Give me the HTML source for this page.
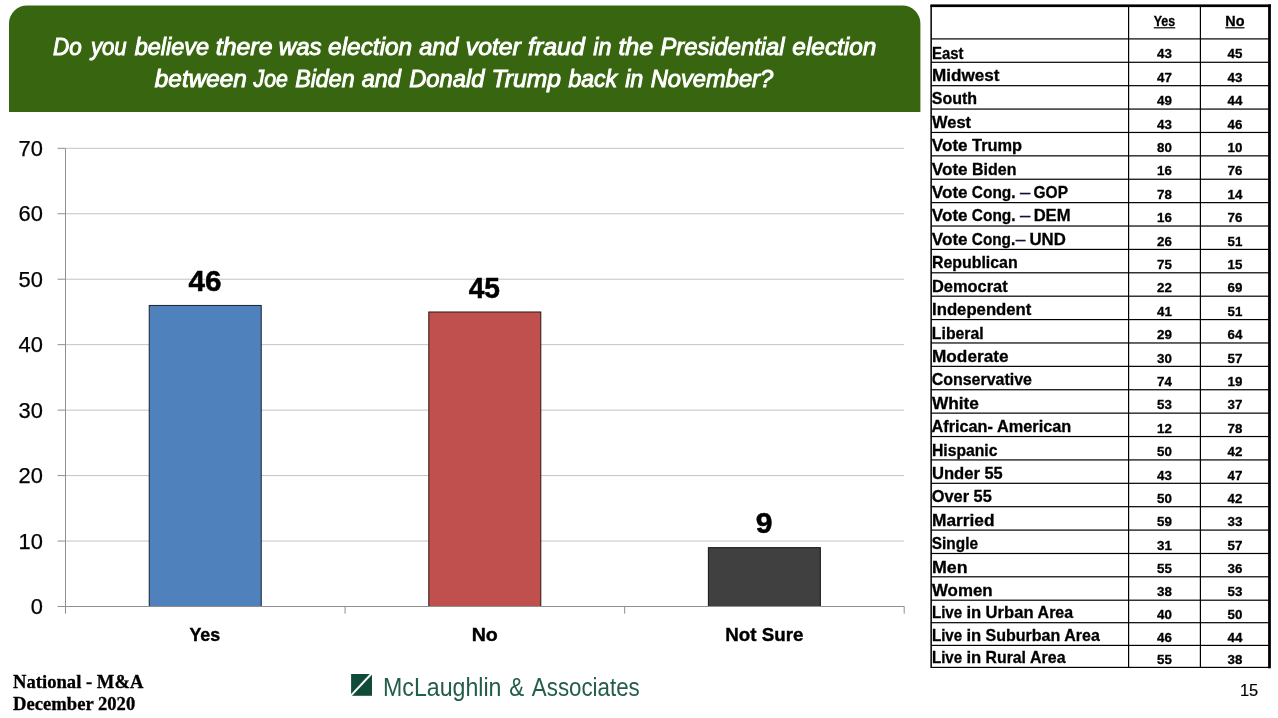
<!DOCTYPE html>
<html lang="en"><head><meta charset="utf-8"><title>Election fraud poll</title>
<style>html,body{margin:0;padding:0;background:#fff}svg{display:block}text{font-family:"Liberation Sans",sans-serif}text.sf{font-family:"Liberation Serif",serif}</style>
</head><body>
<svg width="1278" height="718" viewBox="0 0 1278 718">
<path d="M9 112V23.5A18 18 0 0 1 27 5.5H902.4A18 18 0 0 1 920.4 23.5V112Z" fill="#38650f"/>
<text y="55.10" font-size="24" font-style="italic" fill="#fff" stroke="#fff" stroke-width="0.95"><tspan x="52.99" textLength="28.73" lengthAdjust="spacingAndGlyphs">Do</tspan> <tspan x="90.92" textLength="35.73" lengthAdjust="spacingAndGlyphs">you</tspan> <tspan x="134.69" textLength="74.48" lengthAdjust="spacingAndGlyphs">believe</tspan> <tspan x="215.85" textLength="56.60" lengthAdjust="spacingAndGlyphs">there</tspan> <tspan x="278.83" textLength="42.80" lengthAdjust="spacingAndGlyphs">was</tspan> <tspan x="328.13" textLength="84.06" lengthAdjust="spacingAndGlyphs">election</tspan> <tspan x="419.19" textLength="39.23" lengthAdjust="spacingAndGlyphs">and</tspan> <tspan x="465.78" textLength="54.99" lengthAdjust="spacingAndGlyphs">voter</tspan> <tspan x="528.05" textLength="56.68" lengthAdjust="spacingAndGlyphs">fraud</tspan> <tspan x="593.34" textLength="18.11" lengthAdjust="spacingAndGlyphs">in</tspan> <tspan x="618.42" textLength="34.75" lengthAdjust="spacingAndGlyphs">the</tspan> <tspan x="660.41" textLength="124.20" lengthAdjust="spacingAndGlyphs">Presidential</tspan> <tspan x="792.37" textLength="84.06" lengthAdjust="spacingAndGlyphs">election</tspan></text>
<text y="86.50" font-size="24" font-style="italic" fill="#fff" stroke="#fff" stroke-width="0.95"><tspan x="154.84" textLength="91.98" lengthAdjust="spacingAndGlyphs">between</tspan> <tspan x="253.62" textLength="34.34" lengthAdjust="spacingAndGlyphs">Joe</tspan> <tspan x="295.16" textLength="59.46" lengthAdjust="spacingAndGlyphs">Biden</tspan> <tspan x="361.68" textLength="39.30" lengthAdjust="spacingAndGlyphs">and</tspan> <tspan x="409.16" textLength="75.25" lengthAdjust="spacingAndGlyphs">Donald</tspan> <tspan x="491.45" textLength="69.54" lengthAdjust="spacingAndGlyphs">Trump</tspan> <tspan x="568.41" textLength="48.51" lengthAdjust="spacingAndGlyphs">back</tspan> <tspan x="625.19" textLength="18.14" lengthAdjust="spacingAndGlyphs">in</tspan> <tspan x="650.74" textLength="122.45" lengthAdjust="spacingAndGlyphs">November?</tspan></text>
<line x1="65.5" y1="148.30" x2="904.2" y2="148.30" stroke="#c3c3c3" stroke-width="1"/>
<line x1="65.5" y1="213.76" x2="904.2" y2="213.76" stroke="#c3c3c3" stroke-width="1"/>
<line x1="65.5" y1="279.21" x2="904.2" y2="279.21" stroke="#c3c3c3" stroke-width="1"/>
<line x1="65.5" y1="344.67" x2="904.2" y2="344.67" stroke="#c3c3c3" stroke-width="1"/>
<line x1="65.5" y1="410.13" x2="904.2" y2="410.13" stroke="#c3c3c3" stroke-width="1"/>
<line x1="65.5" y1="475.59" x2="904.2" y2="475.59" stroke="#c3c3c3" stroke-width="1"/>
<line x1="65.5" y1="541.04" x2="904.2" y2="541.04" stroke="#c3c3c3" stroke-width="1"/>
<line x1="57.6" y1="148.30" x2="65.5" y2="148.30" stroke="#8f8f8f" stroke-width="1"/>
<line x1="57.6" y1="213.76" x2="65.5" y2="213.76" stroke="#8f8f8f" stroke-width="1"/>
<line x1="57.6" y1="279.21" x2="65.5" y2="279.21" stroke="#8f8f8f" stroke-width="1"/>
<line x1="57.6" y1="344.67" x2="65.5" y2="344.67" stroke="#8f8f8f" stroke-width="1"/>
<line x1="57.6" y1="410.13" x2="65.5" y2="410.13" stroke="#8f8f8f" stroke-width="1"/>
<line x1="57.6" y1="475.59" x2="65.5" y2="475.59" stroke="#8f8f8f" stroke-width="1"/>
<line x1="57.6" y1="541.04" x2="65.5" y2="541.04" stroke="#8f8f8f" stroke-width="1"/>
<line x1="57.6" y1="606.50" x2="65.5" y2="606.50" stroke="#8f8f8f" stroke-width="1"/>
<line x1="65.5" y1="148.3" x2="65.5" y2="606.5" stroke="#8f8f8f" stroke-width="1"/>
<line x1="65.50" y1="606.5" x2="65.50" y2="613.7" stroke="#8f8f8f" stroke-width="1"/>
<line x1="345.07" y1="606.5" x2="345.07" y2="613.7" stroke="#8f8f8f" stroke-width="1"/>
<line x1="624.63" y1="606.5" x2="624.63" y2="613.7" stroke="#8f8f8f" stroke-width="1"/>
<line x1="904.20" y1="606.5" x2="904.20" y2="613.7" stroke="#8f8f8f" stroke-width="1"/>
<text x="42.90" y="156.00" font-size="21.2" text-anchor="end" stroke="#000" stroke-width="0.25" textLength="24.34" lengthAdjust="spacingAndGlyphs">70</text>
<text x="42.90" y="221.46" font-size="21.2" text-anchor="end" stroke="#000" stroke-width="0.25" textLength="24.34" lengthAdjust="spacingAndGlyphs">60</text>
<text x="42.90" y="286.91" font-size="21.2" text-anchor="end" stroke="#000" stroke-width="0.25" textLength="24.34" lengthAdjust="spacingAndGlyphs">50</text>
<text x="42.90" y="352.37" font-size="21.2" text-anchor="end" stroke="#000" stroke-width="0.25" textLength="24.34" lengthAdjust="spacingAndGlyphs">40</text>
<text x="42.90" y="417.83" font-size="21.2" text-anchor="end" stroke="#000" stroke-width="0.25" textLength="24.34" lengthAdjust="spacingAndGlyphs">30</text>
<text x="42.90" y="483.29" font-size="21.2" text-anchor="end" stroke="#000" stroke-width="0.25" textLength="24.34" lengthAdjust="spacingAndGlyphs">20</text>
<text x="42.90" y="548.74" font-size="21.2" text-anchor="end" stroke="#000" stroke-width="0.25" textLength="24.34" lengthAdjust="spacingAndGlyphs">10</text>
<text x="42.90" y="614.20" font-size="21.2" text-anchor="end" stroke="#000" stroke-width="0.25" textLength="12.17" lengthAdjust="spacingAndGlyphs">0</text>
<rect x="149.23" y="305.45" width="112.00" height="301.05" fill="#4f81bd" stroke="#1a2233" stroke-width="1"/>
<text x="188.45" y="291.20" font-size="28.6" text-anchor="start" font-weight="bold" stroke="#000" stroke-width="0.5" textLength="32.92" lengthAdjust="spacingAndGlyphs">46</text>
<text x="189.39" y="640.80" font-size="19.2" text-anchor="start" font-weight="bold" stroke="#000" stroke-width="0.4" textLength="30.84" lengthAdjust="spacingAndGlyphs">Yes</text>
<rect x="428.80" y="311.99" width="112.00" height="294.51" fill="#c0504d" stroke="#2e1413" stroke-width="1"/>
<text x="468.67" y="297.74" font-size="28.6" text-anchor="start" font-weight="bold" stroke="#000" stroke-width="0.5" textLength="31.31" lengthAdjust="spacingAndGlyphs">45</text>
<text x="471.69" y="640.80" font-size="19.2" text-anchor="start" font-weight="bold" stroke="#000" stroke-width="0.4" textLength="26.18" lengthAdjust="spacingAndGlyphs">No</text>
<rect x="708.37" y="547.64" width="112.00" height="58.86" fill="#404040" stroke="#141414" stroke-width="1"/>
<text x="755.76" y="533.39" font-size="28.6" text-anchor="start" font-weight="bold" stroke="#000" stroke-width="0.5" textLength="16.76" lengthAdjust="spacingAndGlyphs">9</text>
<text x="725.35" y="640.80" font-size="19.2" text-anchor="start" font-weight="bold" stroke="#000" stroke-width="0.4" textLength="78.09" lengthAdjust="spacingAndGlyphs">Not Sure</text>
<line x1="65.5" y1="606.5" x2="904.2" y2="606.5" stroke="#8f8f8f" stroke-width="1.1"/>
<rect x="930.40" y="4.4" width="340.50" height="2.7" fill="#000"/>
<rect x="1268.1" y="4.4" width="2.8" height="663.90" fill="#000"/>
<rect x="930.40" y="5.20" width="1.5" height="662.80" fill="#000"/>
<rect x="1128.00" y="5.20" width="1.2" height="662.20" fill="#000"/>
<rect x="1199.80" y="5.20" width="1.2" height="662.20" fill="#000"/>
<rect x="931.20" y="38.30" width="338.20" height="1.2" fill="#000"/>
<rect x="931.20" y="61.69" width="338.20" height="1.2" fill="#000"/>
<rect x="931.20" y="85.08" width="338.20" height="1.2" fill="#000"/>
<rect x="931.20" y="108.47" width="338.20" height="1.2" fill="#000"/>
<rect x="931.20" y="131.86" width="338.20" height="1.2" fill="#000"/>
<rect x="931.20" y="155.25" width="338.20" height="1.2" fill="#000"/>
<rect x="931.20" y="178.64" width="338.20" height="1.2" fill="#000"/>
<rect x="931.20" y="202.03" width="338.20" height="1.2" fill="#000"/>
<rect x="931.20" y="225.42" width="338.20" height="1.2" fill="#000"/>
<rect x="931.20" y="248.81" width="338.20" height="1.2" fill="#000"/>
<rect x="931.20" y="272.20" width="338.20" height="1.2" fill="#000"/>
<rect x="931.20" y="295.59" width="338.20" height="1.2" fill="#000"/>
<rect x="931.20" y="318.98" width="338.20" height="1.2" fill="#000"/>
<rect x="931.20" y="342.37" width="338.20" height="1.2" fill="#000"/>
<rect x="931.20" y="365.76" width="338.20" height="1.2" fill="#000"/>
<rect x="931.20" y="389.15" width="338.20" height="1.2" fill="#000"/>
<rect x="931.20" y="412.54" width="338.20" height="1.2" fill="#000"/>
<rect x="931.20" y="435.93" width="338.20" height="1.2" fill="#000"/>
<rect x="931.20" y="459.32" width="338.20" height="1.2" fill="#000"/>
<rect x="931.20" y="482.71" width="338.20" height="1.2" fill="#000"/>
<rect x="931.20" y="506.10" width="338.20" height="1.2" fill="#000"/>
<rect x="931.20" y="529.49" width="338.20" height="1.2" fill="#000"/>
<rect x="931.20" y="552.88" width="338.20" height="1.2" fill="#000"/>
<rect x="931.20" y="576.20" width="338.20" height="1.2" fill="#000"/>
<rect x="931.20" y="599.60" width="338.20" height="1.2" fill="#000"/>
<rect x="931.20" y="622.10" width="338.20" height="1.2" fill="#000"/>
<rect x="931.20" y="644.80" width="338.20" height="1.2" fill="#000"/>
<rect x="931.20" y="666.80" width="338.20" height="1.2" fill="#000"/>
<text x="1164.50" y="25.70" font-size="14.4" text-anchor="middle" font-weight="bold" stroke="#000" stroke-width="0.3" textLength="21.48" lengthAdjust="spacingAndGlyphs">Yes</text>
<rect x="1153.76" y="27.2" width="21.48" height="1.2" fill="#000"/>
<text x="1234.90" y="25.70" font-size="14.4" text-anchor="middle" font-weight="bold" stroke="#000" stroke-width="0.3" textLength="19.16" lengthAdjust="spacingAndGlyphs">No</text>
<rect x="1225.32" y="27.2" width="19.16" height="1.2" fill="#000"/>
<text y="58.59" font-size="16.6" font-weight="bold" stroke="#000" stroke-width="0.3"><tspan x="932.00" textLength="31.43" lengthAdjust="spacingAndGlyphs">East</tspan></text>
<text x="1164.50" y="58.49" font-size="12.9" text-anchor="middle" font-weight="bold" stroke="#000" stroke-width="0.3" textLength="14.84" lengthAdjust="spacingAndGlyphs">43</text>
<text x="1234.90" y="58.49" font-size="12.9" text-anchor="middle" font-weight="bold" stroke="#000" stroke-width="0.3" textLength="14.84" lengthAdjust="spacingAndGlyphs">45</text>
<text y="81.08" font-size="16.6" font-weight="bold" stroke="#000" stroke-width="0.3"><tspan x="932.04" textLength="67.48" lengthAdjust="spacingAndGlyphs">Midwest</tspan></text>
<text x="1164.50" y="81.88" font-size="12.9" text-anchor="middle" font-weight="bold" stroke="#000" stroke-width="0.3" textLength="14.84" lengthAdjust="spacingAndGlyphs">47</text>
<text x="1234.90" y="81.88" font-size="12.9" text-anchor="middle" font-weight="bold" stroke="#000" stroke-width="0.3" textLength="14.84" lengthAdjust="spacingAndGlyphs">43</text>
<text y="104.47" font-size="16.6" font-weight="bold" stroke="#000" stroke-width="0.3"><tspan x="931.81" textLength="45.34" lengthAdjust="spacingAndGlyphs">South</tspan></text>
<text x="1164.50" y="105.27" font-size="12.9" text-anchor="middle" font-weight="bold" stroke="#000" stroke-width="0.3" textLength="14.84" lengthAdjust="spacingAndGlyphs">49</text>
<text x="1234.90" y="105.27" font-size="12.9" text-anchor="middle" font-weight="bold" stroke="#000" stroke-width="0.3" textLength="14.84" lengthAdjust="spacingAndGlyphs">44</text>
<text y="127.86" font-size="16.6" font-weight="bold" stroke="#000" stroke-width="0.3"><tspan x="931.99" textLength="39.05" lengthAdjust="spacingAndGlyphs">West</tspan></text>
<text x="1164.50" y="128.66" font-size="12.9" text-anchor="middle" font-weight="bold" stroke="#000" stroke-width="0.3" textLength="14.84" lengthAdjust="spacingAndGlyphs">43</text>
<text x="1234.90" y="128.66" font-size="12.9" text-anchor="middle" font-weight="bold" stroke="#000" stroke-width="0.3" textLength="14.84" lengthAdjust="spacingAndGlyphs">46</text>
<text y="151.25" font-size="16.6" font-weight="bold" stroke="#000" stroke-width="0.3"><tspan x="931.81" textLength="35.80" lengthAdjust="spacingAndGlyphs">Vote</tspan> <tspan x="972.04" textLength="50.11" lengthAdjust="spacingAndGlyphs">Trump</tspan></text>
<text x="1164.50" y="152.05" font-size="12.9" text-anchor="middle" font-weight="bold" stroke="#000" stroke-width="0.3" textLength="14.84" lengthAdjust="spacingAndGlyphs">80</text>
<text x="1234.90" y="152.05" font-size="12.9" text-anchor="middle" font-weight="bold" stroke="#000" stroke-width="0.3" textLength="14.84" lengthAdjust="spacingAndGlyphs">10</text>
<text y="174.64" font-size="16.6" font-weight="bold" stroke="#000" stroke-width="0.3"><tspan x="931.81" textLength="35.80" lengthAdjust="spacingAndGlyphs">Vote</tspan> <tspan x="972.08" textLength="44.31" lengthAdjust="spacingAndGlyphs">Biden</tspan></text>
<text x="1164.50" y="175.44" font-size="12.9" text-anchor="middle" font-weight="bold" stroke="#000" stroke-width="0.3" textLength="14.84" lengthAdjust="spacingAndGlyphs">16</text>
<text x="1234.90" y="175.44" font-size="12.9" text-anchor="middle" font-weight="bold" stroke="#000" stroke-width="0.3" textLength="14.84" lengthAdjust="spacingAndGlyphs">76</text>
<text y="198.03" font-size="16.6" font-weight="bold" stroke="#000" stroke-width="0.3"><tspan x="931.81" textLength="35.80" lengthAdjust="spacingAndGlyphs">Vote</tspan> <tspan x="971.81" textLength="43.82" lengthAdjust="spacingAndGlyphs">Cong.</tspan> <tspan x="1020.02" textLength="10.27" lengthAdjust="spacingAndGlyphs" font-weight="normal" fill="#0a0a30" stroke="#0a0a30" stroke-width="0.35">–</tspan> <tspan x="1033.53" textLength="34.46" lengthAdjust="spacingAndGlyphs">GOP</tspan></text>
<text x="1164.50" y="198.83" font-size="12.9" text-anchor="middle" font-weight="bold" stroke="#000" stroke-width="0.3" textLength="14.84" lengthAdjust="spacingAndGlyphs">78</text>
<text x="1234.90" y="198.83" font-size="12.9" text-anchor="middle" font-weight="bold" stroke="#000" stroke-width="0.3" textLength="14.84" lengthAdjust="spacingAndGlyphs">14</text>
<text y="221.42" font-size="16.6" font-weight="bold" stroke="#000" stroke-width="0.3"><tspan x="931.81" textLength="35.80" lengthAdjust="spacingAndGlyphs">Vote</tspan> <tspan x="971.81" textLength="43.82" lengthAdjust="spacingAndGlyphs">Cong.</tspan> <tspan x="1020.02" textLength="10.27" lengthAdjust="spacingAndGlyphs" font-weight="normal" fill="#0a0a30" stroke="#0a0a30" stroke-width="0.35">–</tspan> <tspan x="1033.63" textLength="36.91" lengthAdjust="spacingAndGlyphs">DEM</tspan></text>
<text x="1164.50" y="222.22" font-size="12.9" text-anchor="middle" font-weight="bold" stroke="#000" stroke-width="0.3" textLength="14.84" lengthAdjust="spacingAndGlyphs">16</text>
<text x="1234.90" y="222.22" font-size="12.9" text-anchor="middle" font-weight="bold" stroke="#000" stroke-width="0.3" textLength="14.84" lengthAdjust="spacingAndGlyphs">76</text>
<text y="244.81" font-size="16.6" font-weight="bold" stroke="#000" stroke-width="0.3"><tspan x="931.81" textLength="35.80" lengthAdjust="spacingAndGlyphs">Vote</tspan> <tspan x="971.81" textLength="43.46" lengthAdjust="spacingAndGlyphs">Cong.</tspan><tspan x="1015.82" textLength="9.67" lengthAdjust="spacingAndGlyphs" font-weight="normal" fill="#0a0a30" stroke="#0a0a30" stroke-width="0.35">–</tspan> <tspan x="1029.46" textLength="36.33" lengthAdjust="spacingAndGlyphs">UND</tspan></text>
<text x="1164.50" y="245.61" font-size="12.9" text-anchor="middle" font-weight="bold" stroke="#000" stroke-width="0.3" textLength="14.84" lengthAdjust="spacingAndGlyphs">26</text>
<text x="1234.90" y="245.61" font-size="12.9" text-anchor="middle" font-weight="bold" stroke="#000" stroke-width="0.3" textLength="14.84" lengthAdjust="spacingAndGlyphs">51</text>
<text y="268.20" font-size="16.6" font-weight="bold" stroke="#000" stroke-width="0.3"><tspan x="931.93" textLength="85.70" lengthAdjust="spacingAndGlyphs">Republican</tspan></text>
<text x="1164.50" y="269.00" font-size="12.9" text-anchor="middle" font-weight="bold" stroke="#000" stroke-width="0.3" textLength="14.84" lengthAdjust="spacingAndGlyphs">75</text>
<text x="1234.90" y="269.00" font-size="12.9" text-anchor="middle" font-weight="bold" stroke="#000" stroke-width="0.3" textLength="14.84" lengthAdjust="spacingAndGlyphs">15</text>
<text y="291.59" font-size="16.6" font-weight="bold" stroke="#000" stroke-width="0.3"><tspan x="931.88" textLength="75.80" lengthAdjust="spacingAndGlyphs">Democrat</tspan></text>
<text x="1164.50" y="292.39" font-size="12.9" text-anchor="middle" font-weight="bold" stroke="#000" stroke-width="0.3" textLength="14.84" lengthAdjust="spacingAndGlyphs">22</text>
<text x="1234.90" y="292.39" font-size="12.9" text-anchor="middle" font-weight="bold" stroke="#000" stroke-width="0.3" textLength="14.84" lengthAdjust="spacingAndGlyphs">69</text>
<text y="314.98" font-size="16.6" font-weight="bold" stroke="#000" stroke-width="0.3"><tspan x="932.09" textLength="99.27" lengthAdjust="spacingAndGlyphs">Independent</tspan></text>
<text x="1164.50" y="315.78" font-size="12.9" text-anchor="middle" font-weight="bold" stroke="#000" stroke-width="0.3" textLength="14.84" lengthAdjust="spacingAndGlyphs">41</text>
<text x="1234.90" y="315.78" font-size="12.9" text-anchor="middle" font-weight="bold" stroke="#000" stroke-width="0.3" textLength="14.84" lengthAdjust="spacingAndGlyphs">51</text>
<text y="338.97" font-size="16.6" font-weight="bold" stroke="#000" stroke-width="0.3"><tspan x="931.85" textLength="51.83" lengthAdjust="spacingAndGlyphs">Liberal</tspan></text>
<text x="1164.50" y="339.17" font-size="12.9" text-anchor="middle" font-weight="bold" stroke="#000" stroke-width="0.3" textLength="14.84" lengthAdjust="spacingAndGlyphs">29</text>
<text x="1234.90" y="339.17" font-size="12.9" text-anchor="middle" font-weight="bold" stroke="#000" stroke-width="0.3" textLength="14.84" lengthAdjust="spacingAndGlyphs">64</text>
<text y="361.76" font-size="16.6" font-weight="bold" stroke="#000" stroke-width="0.3"><tspan x="932.04" textLength="76.48" lengthAdjust="spacingAndGlyphs">Moderate</tspan></text>
<text x="1164.50" y="362.56" font-size="12.9" text-anchor="middle" font-weight="bold" stroke="#000" stroke-width="0.3" textLength="14.84" lengthAdjust="spacingAndGlyphs">30</text>
<text x="1234.90" y="362.56" font-size="12.9" text-anchor="middle" font-weight="bold" stroke="#000" stroke-width="0.3" textLength="14.84" lengthAdjust="spacingAndGlyphs">57</text>
<text y="385.15" font-size="16.6" font-weight="bold" stroke="#000" stroke-width="0.3"><tspan x="931.65" textLength="100.35" lengthAdjust="spacingAndGlyphs">Conservative</tspan></text>
<text x="1164.50" y="385.95" font-size="12.9" text-anchor="middle" font-weight="bold" stroke="#000" stroke-width="0.3" textLength="14.84" lengthAdjust="spacingAndGlyphs">74</text>
<text x="1234.90" y="385.95" font-size="12.9" text-anchor="middle" font-weight="bold" stroke="#000" stroke-width="0.3" textLength="14.84" lengthAdjust="spacingAndGlyphs">19</text>
<text y="409.14" font-size="16.6" font-weight="bold" stroke="#000" stroke-width="0.3"><tspan x="931.99" textLength="46.96" lengthAdjust="spacingAndGlyphs">White</tspan></text>
<text x="1164.50" y="409.34" font-size="12.9" text-anchor="middle" font-weight="bold" stroke="#000" stroke-width="0.3" textLength="14.84" lengthAdjust="spacingAndGlyphs">53</text>
<text x="1234.90" y="409.34" font-size="12.9" text-anchor="middle" font-weight="bold" stroke="#000" stroke-width="0.3" textLength="14.84" lengthAdjust="spacingAndGlyphs">37</text>
<text y="431.93" font-size="16.6" font-weight="bold" stroke="#000" stroke-width="0.3"><tspan x="931.55" textLength="61.42" lengthAdjust="spacingAndGlyphs">African-</tspan> <tspan x="996.97" textLength="74.34" lengthAdjust="spacingAndGlyphs">American</tspan></text>
<text x="1164.50" y="432.73" font-size="12.9" text-anchor="middle" font-weight="bold" stroke="#000" stroke-width="0.3" textLength="14.84" lengthAdjust="spacingAndGlyphs">12</text>
<text x="1234.90" y="432.73" font-size="12.9" text-anchor="middle" font-weight="bold" stroke="#000" stroke-width="0.3" textLength="14.84" lengthAdjust="spacingAndGlyphs">78</text>
<text y="455.92" font-size="16.6" font-weight="bold" stroke="#000" stroke-width="0.3"><tspan x="931.90" textLength="65.62" lengthAdjust="spacingAndGlyphs">Hispanic</tspan></text>
<text x="1164.50" y="456.12" font-size="12.9" text-anchor="middle" font-weight="bold" stroke="#000" stroke-width="0.3" textLength="14.84" lengthAdjust="spacingAndGlyphs">50</text>
<text x="1234.90" y="456.12" font-size="12.9" text-anchor="middle" font-weight="bold" stroke="#000" stroke-width="0.3" textLength="14.84" lengthAdjust="spacingAndGlyphs">42</text>
<text y="478.71" font-size="16.6" font-weight="bold" stroke="#000" stroke-width="0.3"><tspan x="931.94" textLength="48.05" lengthAdjust="spacingAndGlyphs">Under</tspan> <tspan x="984.52" textLength="18.19" lengthAdjust="spacingAndGlyphs">55</tspan></text>
<text x="1164.50" y="479.51" font-size="12.9" text-anchor="middle" font-weight="bold" stroke="#000" stroke-width="0.3" textLength="14.84" lengthAdjust="spacingAndGlyphs">43</text>
<text x="1234.90" y="479.51" font-size="12.9" text-anchor="middle" font-weight="bold" stroke="#000" stroke-width="0.3" textLength="14.84" lengthAdjust="spacingAndGlyphs">47</text>
<text y="502.10" font-size="16.6" font-weight="bold" stroke="#000" stroke-width="0.3"><tspan x="931.69" textLength="37.35" lengthAdjust="spacingAndGlyphs">Over</tspan> <tspan x="973.56" textLength="18.19" lengthAdjust="spacingAndGlyphs">55</tspan></text>
<text x="1164.50" y="502.90" font-size="12.9" text-anchor="middle" font-weight="bold" stroke="#000" stroke-width="0.3" textLength="14.84" lengthAdjust="spacingAndGlyphs">50</text>
<text x="1234.90" y="502.90" font-size="12.9" text-anchor="middle" font-weight="bold" stroke="#000" stroke-width="0.3" textLength="14.84" lengthAdjust="spacingAndGlyphs">42</text>
<text y="525.99" font-size="16.6" font-weight="bold" stroke="#000" stroke-width="0.3"><tspan x="932.03" textLength="62.57" lengthAdjust="spacingAndGlyphs">Married</tspan></text>
<text x="1164.50" y="526.29" font-size="12.9" text-anchor="middle" font-weight="bold" stroke="#000" stroke-width="0.3" textLength="14.84" lengthAdjust="spacingAndGlyphs">59</text>
<text x="1234.90" y="526.29" font-size="12.9" text-anchor="middle" font-weight="bold" stroke="#000" stroke-width="0.3" textLength="14.84" lengthAdjust="spacingAndGlyphs">33</text>
<text y="548.88" font-size="16.6" font-weight="bold" stroke="#000" stroke-width="0.3"><tspan x="931.82" textLength="46.16" lengthAdjust="spacingAndGlyphs">Single</tspan></text>
<text x="1164.50" y="549.68" font-size="12.9" text-anchor="middle" font-weight="bold" stroke="#000" stroke-width="0.3" textLength="14.84" lengthAdjust="spacingAndGlyphs">31</text>
<text x="1234.90" y="549.68" font-size="12.9" text-anchor="middle" font-weight="bold" stroke="#000" stroke-width="0.3" textLength="14.84" lengthAdjust="spacingAndGlyphs">57</text>
<text y="572.70" font-size="16.6" font-weight="bold" stroke="#000" stroke-width="0.3"><tspan x="932.00" textLength="35.60" lengthAdjust="spacingAndGlyphs">Men</tspan></text>
<text x="1164.50" y="573.00" font-size="12.9" text-anchor="middle" font-weight="bold" stroke="#000" stroke-width="0.3" textLength="14.84" lengthAdjust="spacingAndGlyphs">55</text>
<text x="1234.90" y="573.00" font-size="12.9" text-anchor="middle" font-weight="bold" stroke="#000" stroke-width="0.3" textLength="14.84" lengthAdjust="spacingAndGlyphs">36</text>
<text y="595.60" font-size="16.6" font-weight="bold" stroke="#000" stroke-width="0.3"><tspan x="931.99" textLength="60.70" lengthAdjust="spacingAndGlyphs">Women</tspan></text>
<text x="1164.50" y="596.40" font-size="12.9" text-anchor="middle" font-weight="bold" stroke="#000" stroke-width="0.3" textLength="14.84" lengthAdjust="spacingAndGlyphs">38</text>
<text x="1234.90" y="596.40" font-size="12.9" text-anchor="middle" font-weight="bold" stroke="#000" stroke-width="0.3" textLength="14.84" lengthAdjust="spacingAndGlyphs">53</text>
<text y="618.10" font-size="16.6" font-weight="bold" stroke="#000" stroke-width="0.3"><tspan x="931.89" textLength="30.33" lengthAdjust="spacingAndGlyphs">Live</tspan> <tspan x="966.40" textLength="14.78" lengthAdjust="spacingAndGlyphs">in</tspan> <tspan x="985.62" textLength="47.94" lengthAdjust="spacingAndGlyphs">Urban</tspan> <tspan x="1037.62" textLength="35.47" lengthAdjust="spacingAndGlyphs">Area</tspan></text>
<text x="1164.50" y="618.90" font-size="12.9" text-anchor="middle" font-weight="bold" stroke="#000" stroke-width="0.3" textLength="14.84" lengthAdjust="spacingAndGlyphs">40</text>
<text x="1234.90" y="618.90" font-size="12.9" text-anchor="middle" font-weight="bold" stroke="#000" stroke-width="0.3" textLength="14.84" lengthAdjust="spacingAndGlyphs">50</text>
<text y="640.80" font-size="16.6" font-weight="bold" stroke="#000" stroke-width="0.3"><tspan x="931.89" textLength="30.33" lengthAdjust="spacingAndGlyphs">Live</tspan> <tspan x="966.40" textLength="14.78" lengthAdjust="spacingAndGlyphs">in</tspan> <tspan x="985.48" textLength="74.78" lengthAdjust="spacingAndGlyphs">Suburban</tspan> <tspan x="1064.35" textLength="35.47" lengthAdjust="spacingAndGlyphs">Area</tspan></text>
<text x="1164.50" y="641.60" font-size="12.9" text-anchor="middle" font-weight="bold" stroke="#000" stroke-width="0.3" textLength="14.84" lengthAdjust="spacingAndGlyphs">46</text>
<text x="1234.90" y="641.60" font-size="12.9" text-anchor="middle" font-weight="bold" stroke="#000" stroke-width="0.3" textLength="14.84" lengthAdjust="spacingAndGlyphs">44</text>
<text y="662.80" font-size="16.6" font-weight="bold" stroke="#000" stroke-width="0.3"><tspan x="931.89" textLength="30.33" lengthAdjust="spacingAndGlyphs">Live</tspan> <tspan x="966.40" textLength="14.78" lengthAdjust="spacingAndGlyphs">in</tspan> <tspan x="985.61" textLength="40.35" lengthAdjust="spacingAndGlyphs">Rural</tspan> <tspan x="1030.08" textLength="35.47" lengthAdjust="spacingAndGlyphs">Area</tspan></text>
<text x="1164.50" y="663.60" font-size="12.9" text-anchor="middle" font-weight="bold" stroke="#000" stroke-width="0.3" textLength="14.84" lengthAdjust="spacingAndGlyphs">55</text>
<text x="1234.90" y="663.60" font-size="12.9" text-anchor="middle" font-weight="bold" stroke="#000" stroke-width="0.3" textLength="14.84" lengthAdjust="spacingAndGlyphs">38</text>
<text x="13.10" y="687.90" font-size="18.62" text-anchor="start" font-weight="bold" stroke="#000" stroke-width="0.3" class="sf">National - M&amp;A</text>
<text x="13.10" y="710.40" font-size="18.62" text-anchor="start" font-weight="bold" stroke="#000" stroke-width="0.3" class="sf">December 2020</text>
<text x="1249.00" y="696.00" font-size="16.8" text-anchor="middle" stroke="#000" stroke-width="0.2" textLength="18.25" lengthAdjust="spacingAndGlyphs">15</text>
<rect x="351.1" y="674" width="20.9" height="21.8" fill="#0f4b38"/>
<line x1="350.9" y1="695.6" x2="371.9" y2="673.3" stroke="#fff" stroke-width="2.0"/>
<text x="383.00" y="695.60" font-size="25.2" text-anchor="start" fill="#245d49" textLength="118.51" lengthAdjust="spacingAndGlyphs">McLaughlin</text>
<text x="509.21" y="695.60" font-size="25.2" text-anchor="start" fill="#245d49" textLength="14.94" lengthAdjust="spacingAndGlyphs">&amp;</text>
<text x="531.86" y="695.60" font-size="25.2" text-anchor="start" fill="#245d49" textLength="107.85" lengthAdjust="spacingAndGlyphs">Associates</text>
</svg>
</body></html>
